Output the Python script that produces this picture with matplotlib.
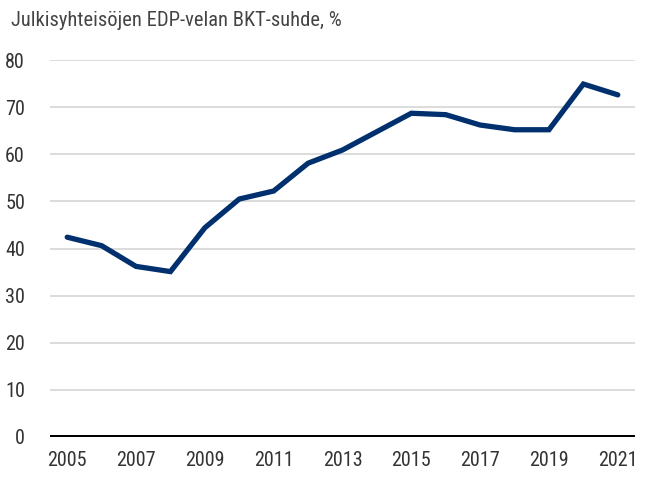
import matplotlib
matplotlib.use("Agg")
import matplotlib.pyplot as plt
from matplotlib import font_manager

years = list(range(2005, 2022))
debt_ratio = [42.4, 40.6, 36.2, 35.1, 44.4, 50.5, 52.2, 58.1, 60.9, 64.8,
              68.7, 68.4, 66.2, 65.2, 65.2, 74.9, 72.6]
title = "Julkisyhteisöjen EDP-velan BKT-suhde, %"
yticks = [0, 10, 20, 30, 40, 50, 60, 70, 80]
xticks = list(range(2005, 2022, 2))

names = {f.name for f in font_manager.fontManager.ttflist}
fam = [n for n in ["Liberation Sans Narrow", "Roboto Condensed", "Open Sans Condensed", "DejaVu Sans Condensed", "Liberation Sans", "DejaVu Sans"] if n in names]
plt.rcParams['font.family'] = fam if fam else ['DejaVu Sans']

W, H = 648, 479
fig = plt.figure(figsize=(W/100, H/100), dpi=100)
ax = fig.add_axes([50/W, 1-437/H, (635-50)/W, (437-60)/H])

ax.plot(years, debt_ratio, color="#00306e", lw=3.8, solid_capstyle="round", solid_joinstyle="miter", zorder=3)
ax.set_xlim(2004.5, 2021.5)
ax.set_ylim(0, 80)
ax.set_yticks(yticks)
ax.set_xticks(xticks)
ax.grid(axis="y", color="#d9d9d9", lw=1.3)
ax.set_axisbelow(True)
ax.axhline(0, color="black", lw=3.6, zorder=4)
for s in ax.spines.values():
    s.set_visible(False)
ax.tick_params(axis="both", length=0, labelsize=14.5, colors="#333333")
ax.tick_params(axis="y", pad=18)
ax.tick_params(axis="x", pad=10)
fig.text(11/W, 1-26/H, title, fontsize=14.8, color="#444444", ha="left", va="baseline")
fig.savefig("out.png", dpi=100)
